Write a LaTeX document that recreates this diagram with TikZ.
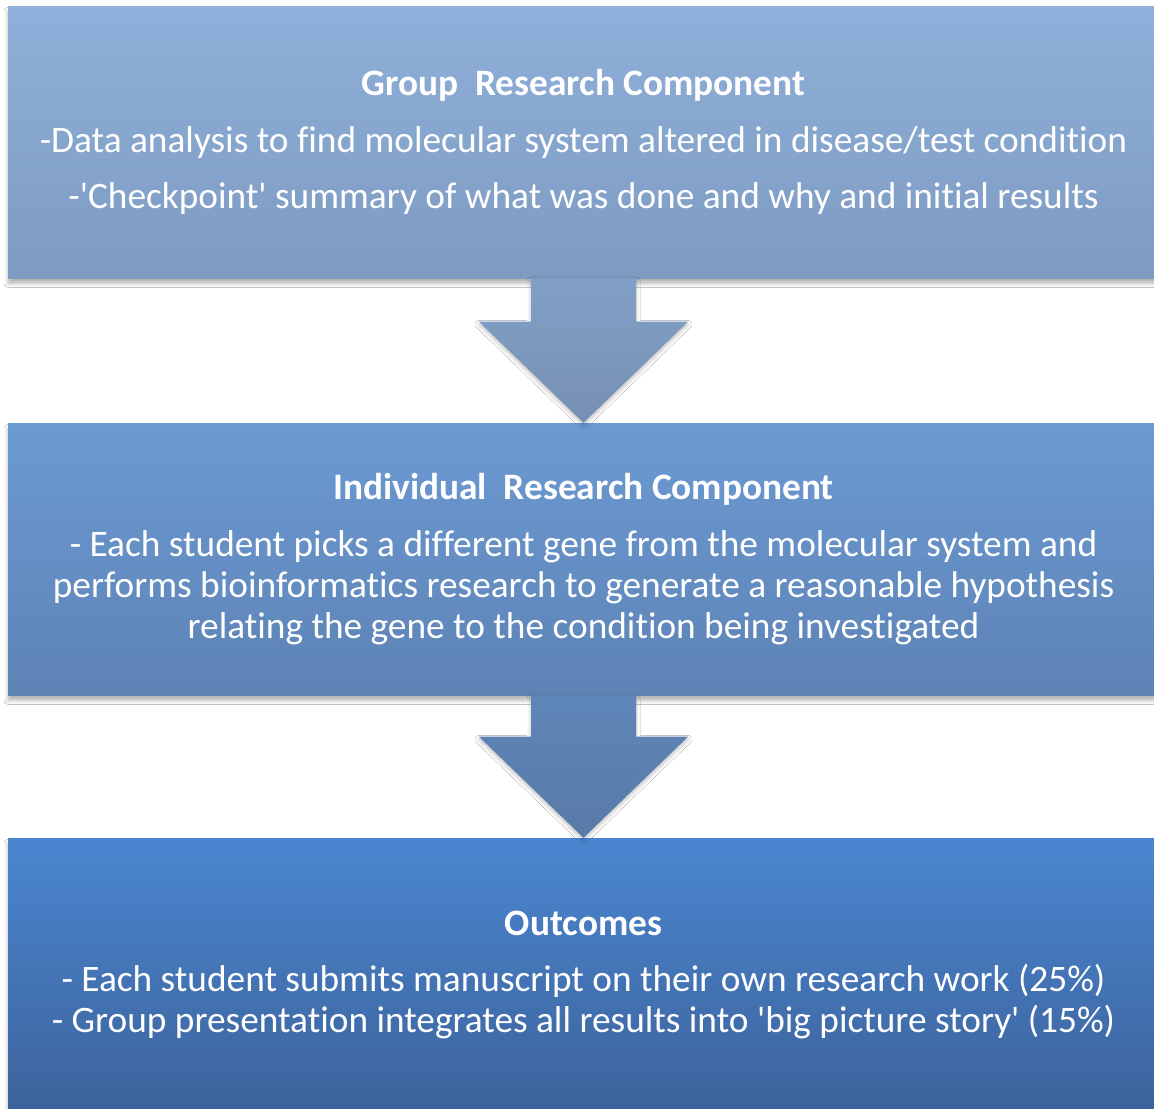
\documentclass[tikz,border=0pt]{standalone}
\usepackage{fontspec}
\setmainfont[Ligatures={NoCommon}]{Carlito}
\usetikzlibrary{calc,shadows.blur}
\definecolor{grouptop}{HTML}{8FB0DA}
\definecolor{groupbot}{HTML}{7E9BC1}
\definecolor{indivtop}{HTML}{6B9AD3}
\definecolor{indivbot}{HTML}{5E83B5}
\definecolor{outtop}{HTML}{4A86D0}
\definecolor{outbot}{HTML}{3D629B}
\definecolor{arrAtop}{HTML}{81A0C7}
\definecolor{arrAbot}{HTML}{7790B3}
\definecolor{arrBtop}{HTML}{5F86B9}
\definecolor{arrBbot}{HTML}{587AA8}
\tikzset{
  every node/.style={font=\fontsize{28}{30.75}\selectfont,text=white},
  stage/.style={minimum width=863.25pt,minimum height=204pt,align=center,inner sep=0pt,
    blur shadow={shadow xshift=0pt,shadow yshift=-4pt,shadow blur radius=3pt,shadow opacity=30}},
  groupbox/.style={stage,top color=grouptop,bottom color=groupbot},
  indivbox/.style={stage,top color=indivtop,bottom color=indivbot},
  outbox/.style={stage,top color=outtop,bottom color=outbot,minimum height=205.5pt},
  flowA/.style={top color=arrAtop,bottom color=arrAbot,
    blur shadow={shadow xshift=0pt,shadow yshift=-2pt,shadow blur radius=3pt,shadow opacity=25}},
  flowB/.style={top color=arrBtop,bottom color=arrBbot,
    blur shadow={shadow xshift=0pt,shadow yshift=-2pt,shadow blur radius=3pt,shadow opacity=25}},
}
\newcommand{\q}{\textquotesingle}

\begin{document}
\begin{tikzpicture}[x=0.75pt,y=-0.75pt]
\useasboundingbox (0,0) rectangle (1154,1108);
\fill[white] (0,0) rectangle (1154,1108);

\node[groupbox] (group) at (583.5,142)
{\textbf{Group~~Research Component}\\[11.5pt]
-Data analysis to find molecular system altered in disease/test condition\\[11.5pt]
-\q Checkpoint\q{} summary of what was done and why and initial results};

\node[indivbox] (indiv) at (583.5,559)
{\textbf{Individual~~Research Component}\\[11.5pt]
- Each student picks a different gene from the molecular system and\\
performs bioinformatics research to generate a reasonable hypothesis\\
relating the gene to the condition being investigated};

\node[outbox] (outcomes) at (583.5,975)
{\textbf{Outcomes}\\[11.5pt]
- Each student submits manuscript on their own research work (25\%)\\
- Group presentation integrates all results into \q big picture story\q{} (15\%)};

% block arrows between the stages
\foreach \a/\b/\s in {group/indiv/flowA,indiv/outcomes/flowB}
  \path[\s] ($(\a.south)+(-52.5,0)$) -- ($(\b.north)+(-52.5,-101)$)
    -- ($(\b.north)+(-104.5,-101)$) -- (\b.north) -- ($(\b.north)+(104.5,-101)$)
    -- ($(\b.north)+(52.5,-101)$) -- ($(\a.south)+(52.5,0)$) -- cycle;

\end{tikzpicture}
\end{document}
